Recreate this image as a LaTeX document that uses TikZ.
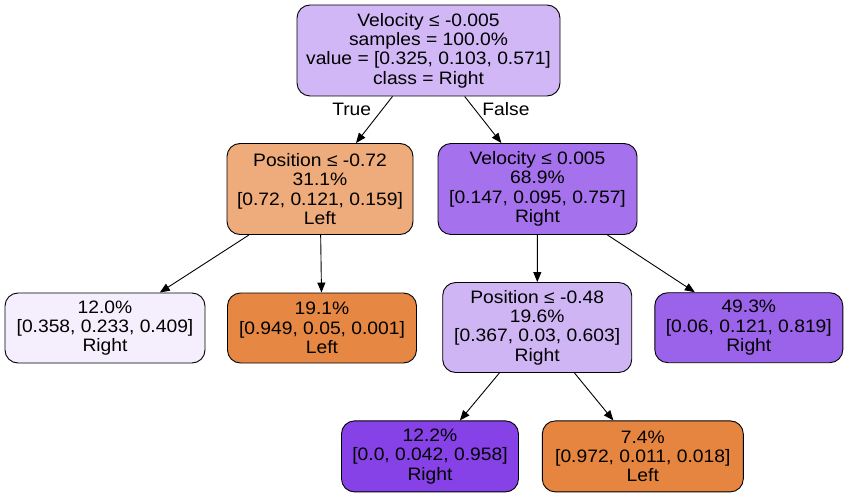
\documentclass[tikz,border=0pt]{standalone}
\usepackage{fontspec}
\setmainfont[FakeStretch=1.07]{Liberation Sans}
\usetikzlibrary{arrows.meta}
\definecolor{cRoot}{RGB}{209,183,245}
\definecolor{cA}{RGB}{238,171,123}
\definecolor{cB}{RGB}{165,113,236}
\definecolor{cC}{RGB}{245,239,253}
\definecolor{cD}{RGB}{230,136,68}
\definecolor{cE}{RGB}{208,181,245}
\definecolor{cF}{RGB}{155,98,234}
\definecolor{cG}{RGB}{134,66,230}
\definecolor{cH}{RGB}{230,133,63}
\tikzset{
  treebox/.style={draw=black, line width=0.9pt, rounded corners=13pt, align=center,
    inner sep=0pt, font=\fontsize{18}{19.4}\selectfont},
  edgelbl/.style={font=\fontsize{18}{19.4}\selectfont, inner sep=0pt},
  treeedge/.style={draw=black, line width=0.9pt, -{Triangle[length=10pt,width=8pt]}}
}
\begin{document}
\begin{tikzpicture}[x=1pt,y=-1pt]
\useasboundingbox (0,0) rectangle (848,497);
\node[treebox, fill=cRoot, minimum width=263pt, minimum height=91pt] (root) at (428.5,50.5)
  {Velocity ≤ -0.005\\samples = 100.0\%\\value = [0.325, 0.103, 0.571]\\class = Right};
\node[treebox, fill=cA, minimum width=186pt, minimum height=91pt] (A) at (320,189)
  {Position ≤ -0.72\\31.1\%\\{[0.72, 0.121, 0.159]}\\Left};
\node[treebox, fill=cB, minimum width=199pt, minimum height=91pt] (B) at (537.5,189)
  {Velocity ≤ 0.005\\68.9\%\\{[0.147, 0.095, 0.757]}\\Right};
\node[treebox, fill=cC, minimum width=200pt, minimum height=70pt] (C) at (105,328)
  {12.0\%\\{[0.358, 0.233, 0.409]}\\Right};
\node[treebox, fill=cD, minimum width=189pt, minimum height=70pt] (D) at (322,328)
  {19.1\%\\{[0.949, 0.05, 0.001]}\\Left};
\node[treebox, fill=cE, minimum width=189pt, minimum height=90pt] (E) at (537.2,327.5)
  {Position ≤ -0.48\\19.6\%\\{[0.367, 0.03, 0.603]}\\Right};
\node[treebox, fill=cF, minimum width=188pt, minimum height=70pt] (F) at (748.8,327.7)
  {49.3\%\\{[0.06, 0.121, 0.819]}\\Right};
\node[treebox, fill=cG, minimum width=177pt, minimum height=71pt] (G) at (430,456.4)
  {12.2\%\\{[0.0, 0.042, 0.958]}\\Right};
\node[treebox, fill=cH, minimum width=201pt, minimum height=71pt] (H) at (642.8,456.4)
  {7.4\%\\{[0.972, 0.011, 0.018]}\\Left};
\draw[treeedge] (root) -- (A);
\draw[treeedge] (root) -- (B);
\draw[treeedge] (A) -- (C);
\draw[treeedge] (A) -- (D);
\draw[treeedge] (B) -- (E);
\draw[treeedge] (B) -- (F);
\draw[treeedge] (E) -- (G);
\draw[treeedge] (E) -- (H);
\node[edgelbl] (lt) at (351.7,109) {True};
\node[edgelbl] (lf) at (506,109) {False};
\end{tikzpicture}
\end{document}
